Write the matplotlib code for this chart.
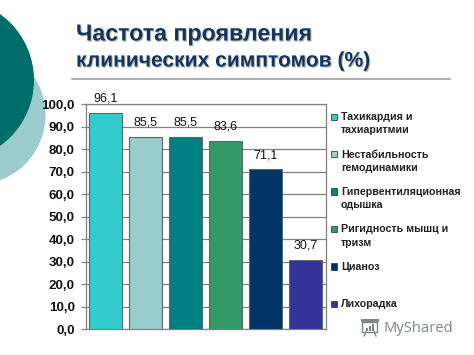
import matplotlib
matplotlib.use('Agg')
import matplotlib.pyplot as plt
import matplotlib.patheffects as pe
from matplotlib.patches import Circle, Rectangle

W, H = 474, 355

# Datos
categorias = ['Тахикардия и\nтахиаритмии', 'Нестабильность\nгемодинамики',
              'Гипервентиляционная\nодышка', 'Ригидность мышц и\nтризм',
              'Цианоз', 'Лихорадка']
valores = [96.1, 85.5, 85.5, 83.6, 71.1, 30.7]
etiquetas = ['96,1', '85,5', '85,5', '83,6', '71,1', '30,7']
colores = ['#33CCCC', '#99CCCC', '#008080', '#339966', '#003366', '#333399']
yticks = [0, 10, 20, 30, 40, 50, 60, 70, 80, 90, 100]
yticklabels = ['0,0', '10,0', '20,0', '30,0', '40,0', '50,0', '60,0', '70,0',
               '80,0', '90,0', '100,0']

plt.rcParams['font.family'] = ['Liberation Sans', 'DejaVu Sans']
fig = plt.figure(figsize=(W / 100, H / 100), dpi=100, facecolor='white')

# Fondo decorativo en pixeles
bg = fig.add_axes([0, 0, 1, 1], zorder=0)
bg.set_xlim(0, W)
bg.set_ylim(H, 0)
bg.axis('off')
bg.add_patch(Circle((-24, 115), 69.5, fc='#9CCBCB', ec='none'))
bg.add_patch(Circle((-47, 80), 81, fc='#006D68', ec='none'))
bg.plot([72, 450], [79, 79], color='#A0A0A0', lw=1.2)

sombra = [pe.SimplePatchShadow(offset=(0.8, -0.8), shadow_rgbFace='#8A8A8A', alpha=0.6),
          pe.Normal()]
for y, txt, fs in [(34, 'Частота проявления', 16.7), (61, 'клинических симптомов (%)', 15.15)]:
    bg.text(76, y, txt, fontsize=fs, fontweight='bold', color='#12355F',
            va='center', ha='left', path_effects=sombra)

# Grafico
ax = fig.add_axes([85.7 / W, 1 - 329 / H, 240 / W, 224.5 / H], zorder=1)
ax.set_facecolor('none')
x = list(range(len(valores)))
ax.bar(x, valores, width=0.825, color=colores, edgecolor='#5A6A6A', linewidth=0.8, zorder=3)
ax.set_xlim(-0.5, 5.5)
ax.set_ylim(0, 100)
ax.set_xticks([])
ax.set_yticks(yticks)
ax.set_yticklabels(yticklabels, fontsize=9.6, fontweight='bold', color='#111111')
ax.tick_params(axis='y', length=3.4, width=0.9, color='#808080', pad=4.5)
ax.grid(axis='y', color='#808080', lw=0.9, zorder=1)
ax.set_axisbelow(True)
for s in ax.spines.values():
    s.set_color('#808080')
    s.set_linewidth(0.9)

for xi, v, e in zip(x, valores, etiquetas):
    ax.annotate(e, (xi, v), xytext=(0, 6), textcoords='offset points', ha='center',
                va='bottom', fontsize=9, color='#111111', zorder=4)

# Leyenda
for i, (c, nombre) in enumerate(zip(colores, categorias)):
    y = 116.8 + i * 37.4
    bg.add_patch(Rectangle((331, y - 3.2), 6.3, 6.4, fc=c, ec='#404040', lw=0.6))
    bg.text(341, y - 4.5, nombre, fontsize=7.7, fontweight='bold', color='#222222',
            va='top', ha='left', linespacing=1.38)

# Marca de agua
gris = '#7F8585'
bg.text(384, 328, 'MyShared', fontsize=10.6, color=gris, ha='left', va='center',
        family=['Open Sans', 'DejaVu Sans'])
bg.add_patch(Rectangle((362.5, 322), 15, 10, fc='none', ec=gris, lw=1))
bg.add_patch(Rectangle((361, 319), 18, 3, fc=gris, ec='none'))
for bx, bh in [(366, 3), (369, 5), (372, 7)]:
    bg.add_patch(Rectangle((bx, 331 - bh), 2, bh, fc=gris, ec='none'))
bg.plot([366, 364], [332, 336], color=gris, lw=1)
bg.plot([374, 376], [332, 336], color=gris, lw=1)

fig.savefig('out.png', dpi=100)
